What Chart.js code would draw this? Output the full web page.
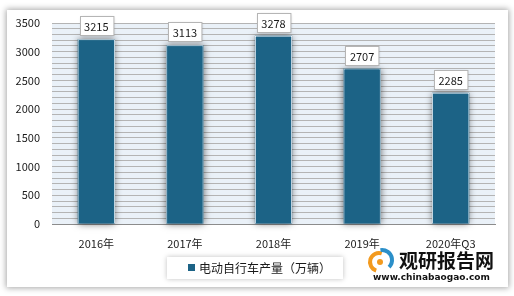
<!DOCTYPE html>
<html>
<head>
<meta charset="utf-8">
<script src="https://cdn.jsdelivr.net/npm/chart.js@4/dist/chart.umd.min.js"></script>
<style>
    html, body { margin: 0; padding: 0; background: #ffffff; }
    body { width: 514px; height: 296px; position: relative; overflow: hidden; }
    #panel {
        position: absolute; left: 7px; top: 10px; width: 501px; height: 277px;
        background: #ffffff; box-shadow: 0 0 6px 1px rgba(0,0,0,0.35);
    }
</style>
</head>
<body>
<div id="panel"><canvas id="chart" width="501" height="277"></canvas></div>
<script>
// ============================================================
// DATA
// ============================================================
const categories = ['2016年', '2017年', '2018年', '2019年', '2020年Q3'];
const output = [3215, 3113, 3278, 2707, 2285];
const seriesName = '电动自行车产量（万辆）';
const yTicks = [0, 500, 1000, 1500, 2000, 2500, 3000, 3500];

const BAR_COLOR = '#1c6386';
const FONT = '"Microsoft YaHei", "Noto Sans CJK SC", "DejaVu Sans", sans-serif';

// plot background + bar shadows
const plotBg = {
    id: 'plotBg',
    beforeDraw: function (chart) {
        const a = chart.chartArea, ctx = chart.ctx;
        ctx.save();
        ctx.fillStyle = '#eaf1f8';
        ctx.fillRect(a.left, a.top, a.right - a.left, a.bottom - a.top);
        ctx.restore();
    },
    beforeDatasetsDraw: function (chart) {
        const ctx = chart.ctx;
        ctx.save();
        chart.getDatasetMeta(0).data.forEach(function (bar) {
            ctx.shadowColor = 'rgba(0,0,0,0.55)';
            ctx.shadowBlur = 7;
            ctx.fillStyle = BAR_COLOR;
            ctx.fillRect(bar.x - bar.width / 2, bar.y, bar.width, bar.base - bar.y);
        });
        ctx.restore();
    }
};

// value boxes above bars
const valueBoxes = {
    id: 'valueBoxes',
    afterDatasetsDraw: function (chart) {
        const ctx = chart.ctx;
        ctx.save();
        ctx.font = '11px ' + FONT;
        ctx.textAlign = 'center';
        ctx.textBaseline = 'middle';
        chart.getDatasetMeta(0).data.forEach(function (bar, i) {
            const txt = String(output[i]);
            const w = ctx.measureText(txt).width + 9;
            const h = 19;
            const x = Math.round(bar.x - w / 2) + 0.5;
            const y = Math.round(bar.y - 4 - h) + 0.5;
            ctx.shadowColor = 'rgba(0,0,0,0.25)';
            ctx.shadowBlur = 3;
            ctx.fillStyle = '#ffffff';
            ctx.fillRect(x, y, w, h);
            ctx.shadowBlur = 0;
            ctx.strokeStyle = '#b5b5b5';
            ctx.lineWidth = 1;
            ctx.strokeRect(x, y, w, h);
            ctx.fillStyle = '#1a1a1a';
            ctx.fillText(txt, bar.x, y + h / 2 + 0.5);
        });
        ctx.restore();
    }
};

// legend box + watermark
const extras = {
    id: 'extras',
    afterDraw: function (chart) {
        const ctx = chart.ctx;
        ctx.save();
        // legend
        ctx.shadowColor = 'rgba(0,0,0,0.25)';
        ctx.shadowBlur = 5;
        ctx.fillStyle = '#ffffff';
        ctx.fillRect(160, 247, 176, 22);
        ctx.shadowBlur = 0;
        ctx.fillStyle = BAR_COLOR;
        ctx.fillRect(181, 254, 7, 7);
        ctx.font = '12px ' + FONT;
        ctx.textBaseline = 'middle';
        ctx.fillStyle = '#1a1a1a';
        ctx.fillText(seriesName, 192, 258);

        // watermark logo
        ctx.lineWidth = 4;
        ctx.strokeStyle = '#f39a1e';
        ctx.beginPath();
        ctx.arc(372, 252, 9, Math.PI * 0.6, Math.PI * 1.6);
        ctx.stroke();
        ctx.strokeStyle = '#2b8fc9';
        ctx.beginPath();
        ctx.arc(375, 250, 10, Math.PI * 1.45, Math.PI * 0.25);
        ctx.stroke();
        ctx.fillStyle = '#f39a1e';
        ctx.beginPath();
        ctx.arc(373, 252, 3, 0, Math.PI * 2);
        ctx.fill();

        ctx.fillStyle = '#111111';
        ctx.font = 'bold 19px ' + FONT;
        ctx.textAlign = 'left';
        ctx.fillText('观研报告网', 392, 251);
        ctx.font = 'bold 9px "DejaVu Sans", sans-serif';
        ctx.fillText('www.chinabaogao.com', 366, 268);
        ctx.restore();
    }
};

new Chart(document.getElementById('chart'), {
    type: 'bar',
    data: {
        labels: categories,
        datasets: [{
            label: seriesName,
            data: output,
            backgroundColor: BAR_COLOR,
            borderColor: '#e6eef4',
            borderWidth: 1,
            barPercentage: 1,
            categoryPercentage: 0.42
        }]
    },
    options: {
        responsive: false,
        animation: false,
        devicePixelRatio: 1,
        layout: { padding: { left: 0, right: 13, top: 13, bottom: 0 } },
        plugins: {
            legend: { display: false },
            tooltip: { enabled: false }
        },
        scales: {
            x: {
                grid: { display: false },
                border: { color: '#8c8c8c', width: 1 },
                ticks: { color: '#1a1a1a', padding: 5, font: { size: 11, family: FONT } },
                afterFit: function (s) { s.height = 63; s.paddingLeft = 0; s.paddingRight = 0; }
            },
            y: {
                min: 0,
                max: 3500,
                grid: { color: '#b4b4b4', lineWidth: 1, drawTicks: false },
                border: { display: false },
                ticks: {
                    stepSize: 100,
                    autoSkip: false,
                    padding: 12,
                    color: '#1a1a1a',
                    font: { size: 11, family: FONT },
                    callback: function (v) { return yTicks.indexOf(v) >= 0 ? String(v) : ''; }
                },
                afterFit: function (s) { s.width = 45; s.paddingTop = 0; s.paddingBottom = 0; }
            }
        }
    },
    plugins: [plotBg, valueBoxes, extras]
});
</script>
</body>
</html>
